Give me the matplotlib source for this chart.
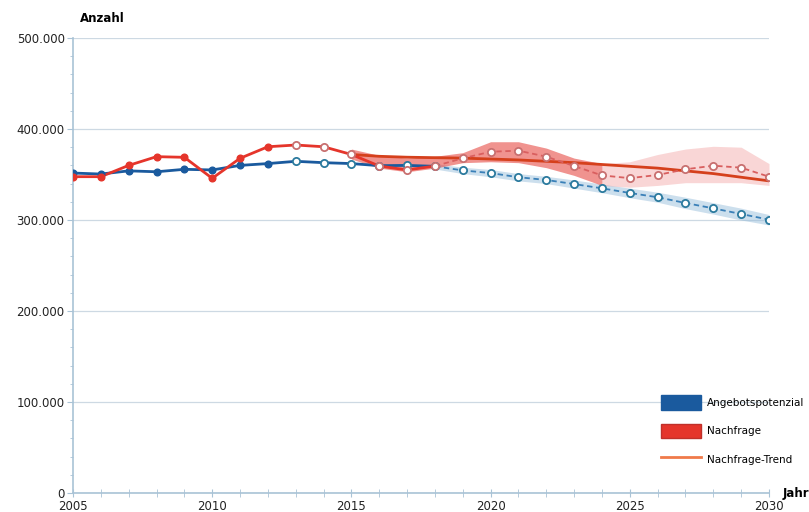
import matplotlib
matplotlib.use('Agg')
import matplotlib.pyplot as plt
from matplotlib.patches import Patch
from matplotlib.lines import Line2D
from matplotlib.ticker import FuncFormatter, MultipleLocator

years = list(range(2005, 2031))

# Angebotspotenzial
angebot = [351600, 350500, 354000, 353000, 355700, 355000, 360000, 362000, 364500, 363000,
           362000, 359700, 360000, 359000, 354500, 351600, 347000, 344000, 339500, 334800,
           329700, 325000, 318700, 312800, 306600, 300400]
# Nachfrage
nachfrage = [347600, 347600, 360000, 369600, 368900, 345800, 367800, 380500, 382400, 380500,
             372000, 359300, 355000, 359300, 367800, 375000, 376200, 369600, 359300, 349000,
             346000, 349500, 355700, 359700, 357500, 347600]

# Nachfrage-Trend (2015-2030)
trend_years = list(range(2015, 2031))
trend = [372000, 370000, 369000, 368500, 368000, 367000, 366000, 364500, 363000, 361000,
         359000, 357000, 354000, 351000, 347000, 343000]

# Schwankungsbreite Nachfrage (2015-2030)
band_years = list(range(2015, 2031))
band_hi = [378000, 371000, 368000, 370000, 374000, 386000, 386000, 379000, 368000, 362000,
           364000, 372000, 378000, 381000, 380000, 362000]
band_lo = [367000, 357000, 353000, 357000, 363000, 364000, 363000, 357500, 349000, 338000,
           336000, 338000, 341000, 341000, 341000, 338000]

# Schwankungsbreite Angebot (2018-2030)
bband_years = list(range(2018, 2031))
bband_hi = [362000, 358000, 355500, 351000, 348000, 344000, 339500, 335000, 330500, 325000,
            319000, 313000, 306000]
bband_lo = [356000, 351000, 347500, 343000, 340000, 335000, 330000, 324500, 319500, 312500,
            306500, 300000, 294500]

c_blue = '#1a5a9e'
c_blue_l = '#3a80b8'
c_red = '#e5352b'
c_red_l = '#d95f5f'
c_trend = '#d5401c'
c_grid = '#cdd9e3'

fig = plt.figure(figsize=(8.09, 5.12), dpi=100)
ax = fig.add_axes([73 / 809, 1 - 493 / 512, (769 - 73) / 809, (493 - 38) / 512])

# bands
ax.fill_between(bband_years, bband_lo, bband_hi, color='#8fb8d8', alpha=0.45, lw=0, zorder=1)
split = band_years.index(2024) + 1
ax.fill_between(band_years[:split], band_lo[:split], band_hi[:split],
                color='#e43a34', alpha=0.55, lw=0, zorder=1)
ax.fill_between(band_years[split - 1:], band_lo[split - 1:], band_hi[split - 1:],
                color='#f08a8a', alpha=0.35, lw=0, zorder=1)

# trend
ax.plot(trend_years, trend, color=c_trend, lw=2, zorder=3)

hist = years.index(2018) + 1
filled = years.index(2012) + 1

# Angebotspotenzial
ax.plot(years[:hist], angebot[:hist], color=c_blue, lw=2, zorder=4)
ax.plot(years[hist - 1:], angebot[hist - 1:], color=c_blue_l, lw=1.3, ls=(0, (3, 2)), zorder=4)
ax.plot(years[:filled], angebot[:filled], 'o', color=c_blue, ms=4.8, zorder=5)
ax.plot(years[filled:], angebot[filled:], 'o', mfc='white', mec='#2b7a9e', mew=1.3, ms=5.2, ls='none', zorder=5)

# Nachfrage
ax.plot(years[:hist], nachfrage[:hist], color=c_red, lw=2, zorder=4)
ax.plot(years[hist - 1:], nachfrage[hist - 1:], color=c_red_l, lw=1.3, ls=(0, (3, 2)), zorder=4)
ax.plot(years[:filled], nachfrage[:filled], 'o', color=c_red, ms=4.8, zorder=5)
ax.plot(years[filled:], nachfrage[filled:], 'o', mfc='white', mec='#c87070', mew=1.3, ms=5.2, ls='none', zorder=5)

ax.set_xlim(2005, 2030)
ax.set_ylim(0, 500000)
ax.yaxis.set_major_locator(MultipleLocator(100000))
ax.yaxis.set_minor_locator(MultipleLocator(20000))
ax.xaxis.set_major_locator(MultipleLocator(5))
ax.xaxis.set_minor_locator(MultipleLocator(1))
ax.yaxis.set_major_formatter(FuncFormatter(lambda v, p: f'{int(v):,}'.replace(',', '.')))
ax.grid(axis='y', color=c_grid, lw=0.9)
ax.set_axisbelow(True)

for s in ['top', 'right']:
    ax.spines[s].set_visible(False)
for s in ['left', 'bottom']:
    ax.spines[s].set_color('#a9c3d6')
    ax.spines[s].set_linewidth(1.2)

ax.tick_params(axis='both', which='both', colors='#a9c3d6', labelcolor='#222222', labelsize=8.5)
ax.tick_params(axis='x', which='both', direction='inout', length=6, pad=2)
ax.tick_params(axis='y', which='major', direction='out', length=4, pad=2)
ax.tick_params(axis='y', which='minor', direction='out', length=2)

fig.text(80 / 809, 1 - 18 / 512, 'Anzahl', fontsize=8.5, fontweight='bold', va='center')
fig.text(783 / 809, 1 - 494 / 512, 'Jahr', fontsize=8.5, fontweight='bold', va='center')

handles = [Patch(facecolor=c_blue, edgecolor=c_blue),
           Patch(facecolor=c_red, edgecolor='#c0302a'),
           Line2D([0], [0], color='#f07a4a', lw=2)]
labels = ['Angebotspotenzial', 'Nachfrage', 'Nachfrage-Trend']
leg = fig.legend(handles, labels, loc='upper left', bbox_to_anchor=(652 / 809, 1 - 386 / 512),
                 frameon=False, fontsize=7.5, handlelength=3.8, handleheight=1.8,
                 labelspacing=1.3, handletextpad=0.6)

fig.savefig('out.png', dpi=100)
